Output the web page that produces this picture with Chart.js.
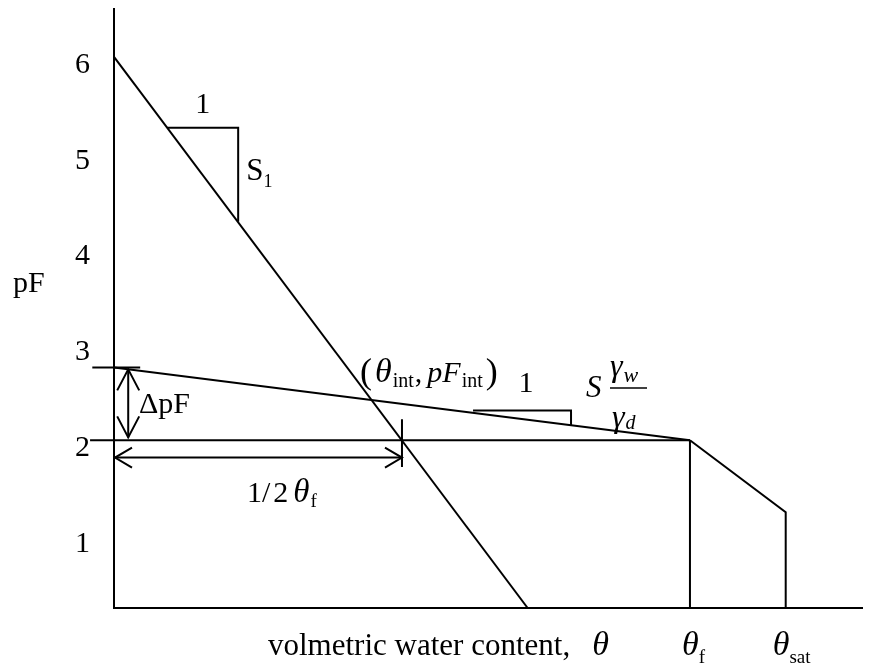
<!DOCTYPE html>
<html>
<head>
<meta charset="utf-8">
<script src="https://cdn.jsdelivr.net/npm/chart.js@4.4.0/dist/chart.umd.min.js"></script>
<style>
  html, body { margin: 0; padding: 0; background: #fff; }
  #wrap { width: 873px; height: 671px; }
</style>
</head>
<body>
<div id="wrap"><canvas id="pfChart"></canvas></div>
<script>
// water content on a 0-100 scale, suction as pF
const thetaF = 77;
const thetaSat = 89.8;
const pfTicks = [1, 2, 3, 4, 5, 6];

const dryingLine = [[0, 6], [55.3, 0.25]];
const wettingLine = [[0, 2.76], [thetaF, 2]];
const pf2Line = [[-3.2, 2], [thetaF, 2]];
const startTick = [[-2.9, 2.76], [3.5, 2.76]];
const satLine = [[thetaF, 2], [thetaSat, 1.25], [thetaSat, 0.25]];
const thetaFLine = [[thetaF, 2], [thetaF, 0.25]];
const slopeS1 = [[7.1, 5.26], [16.6, 5.26], [16.6, 4.28]];
const slopeS2 = [[48, 2.31], [61.1, 2.31], [61.1, 2.16]];
const deltaArrow = [[1.9, 2.74], [1.9, 2.03]];
const halfArrow = [[0, 1.82], [thetaF / 2, 1.82]];
const halfTick = [[thetaF / 2, 2.22], [thetaF / 2, 1.72]];

const serif = '"Liberation Serif", "Times New Roman", serif';
const F = (size, italic) => (italic ? 'italic ' : '') + size + 'px ' + serif;

const segments = [dryingLine, wettingLine, pf2Line, startTick, satLine, thetaFLine,
                  slopeS1, slopeS2, deltaArrow, halfArrow, halfTick];

const datasets = segments.map(seg => ({
    data: seg.map(([x, y]) => ({ x, y })),
    showLine: true,
    borderColor: '#000',
    borderWidth: 2,
    pointRadius: 0,
    tension: 0,
    clip: false
}));

// write a row of text pieces (normal, italic, subscripts) one after another
function drawRuns(ctx, x, y, runs) {
    let cx = x;
    runs.forEach(([text, font, dy = 0, gap = 0]) => {
        ctx.font = font;
        ctx.fillText(text, cx + gap, y + dy);
        cx += gap + ctx.measureText(text).width;
    });
}

// open V arrowhead with its tip at (tx, ty), pointing along (dx, dy)
function arrowHead(ctx, tx, ty, dx, dy, len, half) {
    const n = Math.hypot(dx, dy);
    const ux = dx / n, uy = dy / n;
    ctx.beginPath();
    ctx.moveTo(tx - ux * len - uy * half, ty - uy * len + ux * half);
    ctx.lineTo(tx, ty);
    ctx.lineTo(tx - ux * len + uy * half, ty - uy * len - ux * half);
    ctx.stroke();
}

const sketchLabels = {
    id: 'sketchLabels',
    afterDatasetsDraw(chart) {
        const { ctx, scales: { x: xs, y: ys } } = chart;
        const px = v => xs.getPixelForValue(v);
        const py = v => ys.getPixelForValue(v);
        ctx.save();
        ctx.strokeStyle = '#000';
        ctx.fillStyle = '#000';
        ctx.lineWidth = 2;

        // arrowheads on the two dimension arrows
        const [d0, d1] = deltaArrow;
        arrowHead(ctx, px(d0[0]), py(d0[1]), 0, -1, 21, 11);
        arrowHead(ctx, px(d1[0]), py(d1[1]), 0, 1, 21, 11);
        const [h0, h1] = halfArrow;
        arrowHead(ctx, px(h0[0]) + 1, py(h0[1]), -1, 0, 17, 10);
        arrowHead(ctx, px(h1[0]), py(h1[1]), 1, 0, 17, 10);

        ctx.textBaseline = 'alphabetic';

        // "1" over both slope triangles, S1 beside the steep one
        ctx.textAlign = 'center';
        ctx.font = F(30);
        ctx.fillText('1', (px(slopeS1[0][0]) + px(slopeS1[1][0])) / 2, py(slopeS1[0][1]) - 15);
        ctx.fillText('1', (px(slopeS2[0][0]) + px(slopeS2[1][0])) / 2 + 4, py(slopeS2[0][1]) - 19);
        ctx.textAlign = 'left';
        drawRuns(ctx, px(slopeS1[1][0]) + 8, 180, [['S', F(31)], ['1', F(18), 7]]);

        // axis label and annotations
        drawRuns(ctx, 13, 292, [['pF', F(30)]]);
        drawRuns(ctx, 139, 413, [['\u0394pF', F(30)]]);
        drawRuns(ctx, 247, 502, [['1/', F(30)], ['2', F(30), 0, 3], ['\u03b8', F(33, true), 0, 5],
                                  ['f', F(19), 5, 1]]);
        drawRuns(ctx, 360, 382, [['(', F(36), 1], ['\u03b8', F(34, true), 0, 3], ['int', F(20), 5, 1],
                                  [',', F(30), 0, 1], ['pF', F(30, true), 0, 5], ['int', F(20), 5, 1],
                                  [')', F(36), 1, 3]]);

        // S * gamma_w / gamma_d
        drawRuns(ctx, 586, 397, [['S', F(31, true)]]);
        drawRuns(ctx, 610, 376, [['\u03b3', F(32, true)], ['w', F(22, true), 6, 1]]);
        drawRuns(ctx, 612, 427, [['\u03b3', F(32, true)], ['d', F(20, true), 2, 1]]);
        ctx.lineWidth = 1.5;
        ctx.beginPath();
        ctx.moveTo(610, 388);
        ctx.lineTo(647, 388);
        ctx.stroke();

        // x axis texts
        drawRuns(ctx, 268, 655, [['volmetric water content,', F(31)], ['\u03b8', F(34, true), 0, 22]]);
        drawRuns(ctx, px(thetaF) - 8, 655, [['\u03b8', F(34, true)], ['f', F(19), 8, 0]]);
        drawRuns(ctx, px(thetaSat) - 13, 655, [['\u03b8', F(34, true)], ['sat', F(19), 8, 0]]);
        ctx.restore();
    }
};

new Chart(document.getElementById('pfChart'), {
    type: 'scatter',
    data: { datasets },
    options: {
        responsive: true,
        maintainAspectRatio: false,
        animation: false,
        layout: { padding: { top: 9, right: 11, left: 0, bottom: 0 } },
        plugins: { legend: { display: false }, tooltip: { enabled: false } },
        scales: {
            x: {
                type: 'linear',
                min: 0,
                max: 100,
                grid: { display: false, drawTicks: false },
                border: { display: true, color: '#000', width: 2 },
                ticks: { display: false },
                afterFit: s => { s.height = 63; s.paddingLeft = 0; s.paddingRight = 0; }
            },
            y: {
                type: 'linear',
                min: 0.25,
                max: 6.5,
                grid: { display: false, drawTicks: false },
                border: { display: true, color: '#000', width: 2 },
                afterBuildTicks: s => { s.ticks = pfTicks.map(value => ({ value })); },
                ticks: {
                    color: '#000',
                    padding: 24,
                    labelOffset: 8,
                    font: { family: serif, size: 30 },
                    callback: v => String(v)
                },
                afterFit: s => { s.width = 114; s.paddingTop = 0; s.paddingBottom = 0; }
            }
        }
    },
    plugins: [sketchLabels]
});
</script>
</body>
</html>
